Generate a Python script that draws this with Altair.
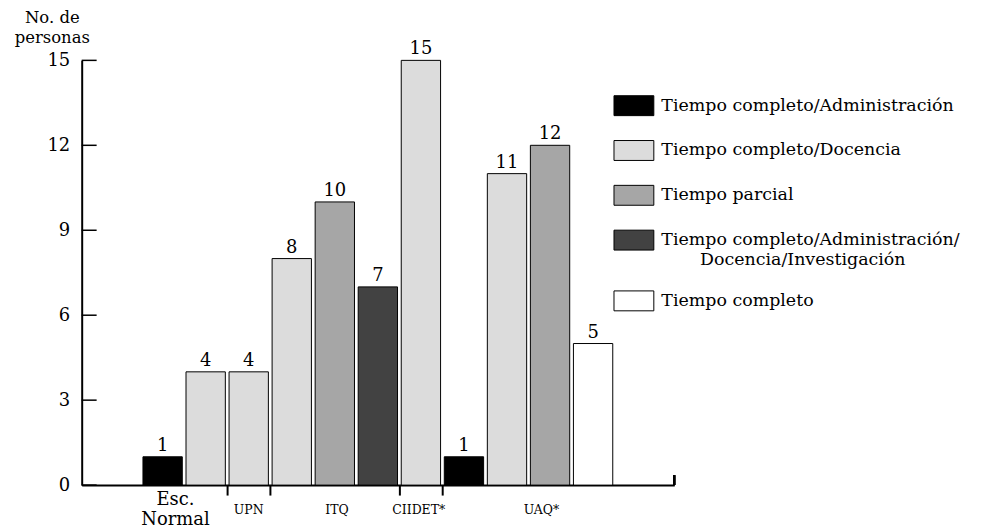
import altair as alt
import pandas as pd

FONT = "DejaVu Serif"

# ---- data ----
bar_index = list(range(11))
bar_values = [1, 4, 4, 8, 10, 7, 15, 1, 11, 12, 5]
ADM = "Tiempo completo/Administración"
DOC = "Tiempo completo/Docencia"
PAR = "Tiempo parcial"
ADI = "Tiempo completo/Administración/|\u200b" + "\u00a0" * 7 + "Docencia/Investigación"
TC = "Tiempo completo"
bar_types = [ADM, DOC, DOC, DOC, PAR, ADI, DOC, ADM, DOC, PAR, TC]
type_order = [ADM, DOC, PAR, ADI, TC]
type_colors = ["#000000", "#dcdcdc", "#a6a6a6", "#424242", "#ffffff"]

big_labels = ["Esc.\nNormal"]
big_label_pos = [0.3]
small_labels = ["UPN", "ITQ", "CIIDET*", "UAQ*"]
small_label_pos = [2.0, 4.05, 5.95, 8.8]
group_ticks = [1.5, 2.5, 5.5, 6.5]
y_ticks = [0, 3, 6, 9, 12, 15]
x_domain = [-1.88, 11.885]

W, H = 595, 426.5

bars = pd.DataFrame({"i": bar_index, "v": bar_values, "t": bar_types})
big = pd.DataFrame({"p": big_label_pos, "l": big_labels})
small = pd.DataFrame({"p": small_label_pos, "l": small_labels})
yt = pd.DataFrame({"v": y_ticks})

xs = alt.Scale(domain=x_domain, nice=False, zero=False, padding=0)
ys = alt.Scale(domain=[0, 15], nice=False, padding=0)

base = alt.Chart(bars)

bar_layer = base.mark_bar(width=39.5, stroke="black", strokeWidth=1).encode(
    x=alt.X("i:Q", scale=xs, axis=alt.Axis(values=group_ticks, labels=False, tickSize=10,
                                           tickWidth=2, tickColor="black", domainWidth=2,
                                           domainColor="black", grid=False, title=None)),
    y=alt.Y("v:Q", scale=ys, axis=alt.Axis(values=y_ticks, ticks=False, grid=False,
                                           domainWidth=2, domainColor="black",
                                           labelFont=FONT, labelFontSize=18, labelColor="black",
                                           labelPadding=12,
                                           title=["No. de", "personas"], titleFont=FONT,
                                           titleFontSize=16.5, titleFontWeight="normal",
                                           titleColor="black", titleAngle=0, titleAlign="center",
                                           titleBaseline="top", titleX=-30, titleY=-51,
                                           titleLineHeight=20)),
    fill=alt.Fill("t:N", scale=alt.Scale(domain=type_order, range=type_colors),
                  legend=alt.Legend(title=None, orient="none", legendX=534, legendY=25,
                                    symbolType="M-1,-0.5H1V0.5H-1Z", symbolSize=1600,
                                    symbolStrokeColor="black", symbolStrokeWidth=1,
                                    labelFont=FONT, labelFontSize=17.5, labelColor="black",
                                    labelOffset=7, labelLimit=400, rowPadding=12,
                                    labelExpr="split(datum.label, '|')")),
)

value_layer = base.mark_text(font=FONT, fontSize=18, baseline="alphabetic", dy=-6,
                             color="black").encode(
    x=alt.X("i:Q", scale=xs), y=alt.Y("v:Q", scale=ys), text="v:Q")

ytick_layer = alt.Chart(yt).mark_rule(color="black", strokeWidth=1.5).encode(
    y=alt.Y("v:Q", scale=ys), x=alt.value(0), x2=alt.value(15))

end_tick = alt.Chart(yt).mark_rule(color="black", strokeWidth=2).encode(
    x=alt.datum(x_domain[1], scale=xs), y=alt.value(H), y2=alt.value(H - 10))

big_layer = alt.Chart(big).mark_text(font=FONT, fontSize=18, baseline="alphabetic",
                                     lineBreak="\n", lineHeight=20, color="black").encode(
    x=alt.X("p:Q", scale=xs), y=alt.value(H + 20), text="l:N")

small_layer = alt.Chart(small).mark_text(font=FONT, fontSize=12.5, baseline="alphabetic",
                                         color="black").encode(
    x=alt.X("p:Q", scale=xs), y=alt.value(H + 29), text="l:N")

chart = alt.layer(bar_layer, value_layer, ytick_layer, end_tick, big_layer, small_layer).properties(
    width=W, height=H,
    background="white",
    autosize=alt.AutoSizeParams(type="none"),
    padding={"left": 74, "top": 51.5, "right": 300, "bottom": 43},
).configure_view(strokeWidth=0, stroke="transparent")

chart.save("out.html", embed_options={"renderer": "svg", "actions": False})
